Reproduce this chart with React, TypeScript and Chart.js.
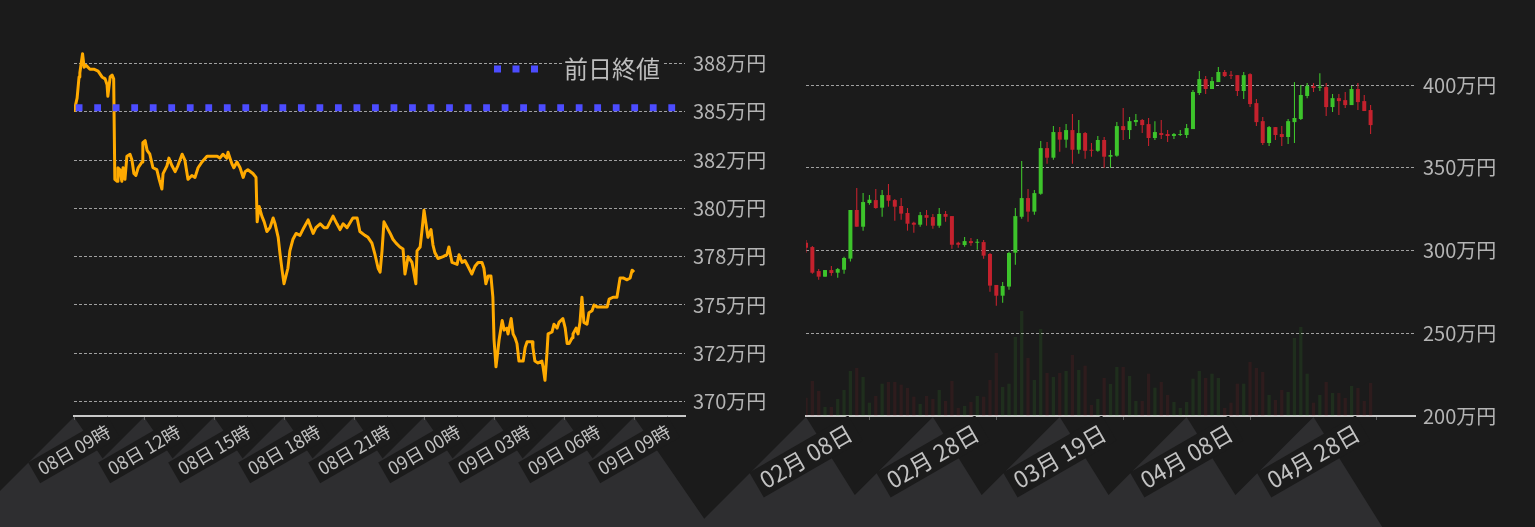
import React, { useEffect, useRef } from 'react';
import { Chart, registerables } from 'chart.js';

Chart.register(...registerables);
Chart.defaults.font.family = "'Noto Sans CJK JP', 'Noto Sans', sans-serif";

const BG = '#1b1b1b';
const ZIGZAG_GRAY = '#2e2e30';
const GRID = 'rgba(205,205,205,0.75)';
const AXIS = '#c8c8c8';
const TICK_MARK = '#5a5a5a';
const LABEL = '#b4b4b4';
const ORANGE = '#ffaa00';
const BLUE = '#4c4cff';
const UP = '#3dc42b';
const DOWN = '#c4212d';
const UP_VOL = 'rgba(61,196,43,0.11)';
const DOWN_VOL = 'rgba(196,33,45,0.11)';

// ---------------- Left chart: intraday price (minutes after 08日 09:00, price in thousand yen)
const intradayMinutes = [
  0, 8, 13, 15, 22, 26, 31, 41, 51, 62, 72, 80, 85, 87, 93, 98, 102,
  105, 111, 113, 118, 123, 126, 131, 136, 144, 149, 154, 159, 165,
  175, 177, 183, 188, 195, 203, 213, 219, 226, 229,
  239, 244, 252, 260, 267, 278, 285, 293, 303, 311,
  319, 329, 342, 355, 368, 375, 383, 393, 396, 406,
  411, 419, 427, 435, 440, 447, 460, 468, 471, 476,
  483, 489, 496, 504, 512, 517, 525, 530, 535, 540,
  545, 550, 555, 563, 571, 581, 591, 602, 615, 622,
  633, 643, 651, 666, 676, 684, 692, 702, 717, 728,
  735, 748, 756, 766, 774, 782, 787, 792, 797, 805,
  813, 820, 828, 838, 846, 851, 859, 869, 872, 879,
  882, 890, 895, 900, 905, 910, 918, 923, 928, 936,
  949, 959, 964, 972, 985, 990, 998, 1005, 1013, 1023,
  1031, 1039, 1049, 1054, 1059, 1065, 1072, 1077, 1080, 1085,
  1088, 1093, 1101, 1106, 1113, 1116, 1124, 1129, 1134, 1139,
  1144, 1155, 1160, 1165, 1178, 1180, 1185, 1193, 1203, 1206,
  1211, 1216, 1219, 1229, 1234, 1242, 1247, 1257, 1263, 1268,
  1273, 1281, 1283, 1291, 1296, 1301, 1306, 1311, 1319, 1324,
  1332, 1337, 1345, 1358, 1371, 1376, 1386, 1396, 1404, 1412,
  1422, 1430, 1435, 1440,
];
const intradayPriceK = [
  3850, 3857, 3868, 3870, 3880, 3873, 3874, 3872, 3872, 3871, 3868, 3867, 3864, 3858, 3868, 3869, 3867,
  3815, 3814, 3821, 3820, 3814, 3821, 3815, 3827, 3828, 3825, 3818, 3817, 3821,
  3824, 3834, 3835, 3830, 3828, 3821, 3820, 3815, 3810, 3818,
  3822, 3826, 3822, 3819, 3822, 3828, 3825, 3815, 3817, 3816,
  3821, 3824, 3827, 3827, 3827, 3826, 3828, 3826, 3829, 3823,
  3821, 3824, 3821, 3816, 3819, 3820, 3818, 3816, 3793, 3801,
  3796, 3793, 3788, 3790, 3795, 3792, 3785, 3776, 3768, 3761,
  3765, 3769, 3778, 3784, 3787, 3786, 3790, 3794, 3787, 3790,
  3792, 3790, 3790, 3796, 3792, 3789, 3792, 3790, 3795, 3795,
  3788, 3786, 3785, 3782, 3776, 3769, 3767, 3778, 3793, 3790,
  3787, 3784, 3782, 3780, 3779, 3766, 3775, 3772, 3769, 3761,
  3778, 3780, 3789, 3799, 3792, 3785, 3789, 3781, 3777, 3774,
  3775, 3776, 3780, 3772, 3771, 3776, 3772, 3773, 3770, 3766,
  3770, 3772, 3772, 3769, 3761, 3765, 3765, 3754, 3732, 3718,
  3723, 3732, 3742, 3737, 3738, 3735, 3743, 3735, 3733, 3730,
  3721, 3721, 3728, 3731, 3731, 3728, 3721, 3720, 3721, 3718,
  3711, 3725, 3735, 3736, 3740, 3738, 3741, 3743, 3738, 3730,
  3730, 3733, 3735, 3738, 3735, 3741, 3754, 3741, 3740, 3746,
  3747, 3750, 3749, 3749, 3749, 3753, 3754, 3754, 3764, 3764,
  3763, 3764, 3768, 3767,
];
const previousClose = 3852000;
const previousCloseLabel = '前日終値';
const intradayXRange = [0, 1571];
const intradayTickMinutes = [0, 180, 360, 540, 720, 900, 1080, 1260, 1440];
const intradayTickLabels = ['08日 09時', '08日 12時', '08日 15時', '08日 18時', '08日 21時', '09日 00時', '09日 03時', '09日 06時', '09日 09時'];
const intradayYRange = [3692540, 3883490];
const intradayYTicks = [3700000, 3725000, 3750000, 3775000, 3800000, 3825000, 3850000, 3875000];
const intradayYLabels = ['370万円', '372万円', '375万円', '378万円', '380万円', '382万円', '385万円', '388万円'];

// ---------------- Right chart: daily candles (万円) and volume
const dailyOpen = [
  304.7, 302.1, 287.6, 284.2, 288.2, 286.6, 288.4, 295.1, 324.5, 314.4,
  328.7, 330.5, 325.9, 333.5, 330.5, 326.9, 322.7, 316.8, 315.6, 321.4,
  320.2, 315.0, 322.1, 320.8, 304.7, 303.3, 305.7, 304.7, 305.1, 297.9,
  279.2, 272.7, 278.2, 298.7, 320.4, 331.7, 323.5, 334.3, 361.9, 356.1,
  371.6, 367.0, 372.8, 360.9, 371.0, 360.7, 360.3, 366.8, 356.7, 357.3,
  375.2, 372.8, 377.6, 378.9, 376.4, 368.0, 371.0, 370.4, 369.2, 369.8,
  369.8, 373.4, 395.2, 403.6, 397.6, 401.8, 407.9, 406.0, 406.0, 396.4,
  406.6, 389.1, 378.2, 365.0, 374.6, 370.4, 368.6, 377.6, 379.5, 393.4,
  399.4, 398.4, 398.8, 386.7, 392.1, 390.9, 387.9, 397.6, 390.3, 384.9,
];
const dailyHigh = [
  306.3, 302.7, 288.8, 288.2, 290.6, 289.4, 296.3, 324.5, 337.8, 334.7,
  333.5, 337.2, 336.6, 340.2, 331.1, 331.7, 325.7, 317.4, 323.3, 324.5,
  322.1, 325.7, 323.9, 320.8, 305.3, 308.2, 307.6, 307.0, 306.3, 298.5,
  279.2, 281.0, 299.3, 325.7, 354.1, 337.2, 336.6, 366.2, 365.6, 375.2,
  374.6, 376.4, 382.5, 378.9, 371.6, 365.0, 369.2, 368.6, 360.7, 377.6,
  386.1, 380.7, 382.5, 379.5, 380.1, 378.2, 378.9, 372.8, 371.0, 372.8,
  376.4, 397.0, 408.5, 405.4, 404.8, 410.9, 409.1, 408.5, 406.0, 407.9,
  407.2, 391.5, 380.7, 375.2, 374.6, 375.2, 379.5, 401.8, 400.0, 401.2,
  401.2, 407.2, 401.2, 394.6, 394.6, 395.8, 399.4, 401.2, 394.0, 387.9,
];
const dailyLow = [
  298.7, 286.0, 282.4, 284.2, 284.8, 283.6, 286.0, 293.3, 314.4, 312.0,
  327.7, 325.3, 320.4, 326.5, 318.0, 318.6, 312.0, 310.8, 314.4, 315.0,
  313.2, 313.8, 317.4, 301.1, 301.7, 302.3, 302.9, 300.5, 295.1, 275.1,
  266.7, 268.5, 276.3, 291.4, 319.2, 317.4, 321.6, 333.7, 352.5, 354.9,
  359.7, 362.1, 352.5, 358.5, 355.5, 356.7, 359.7, 350.0, 350.0, 356.7,
  366.8, 367.4, 375.2, 371.0, 363.1, 366.8, 367.4, 365.6, 367.4, 369.2,
  368.0, 373.4, 394.0, 394.6, 397.6, 401.8, 404.8, 403.6, 393.4, 391.5,
  386.7, 375.2, 363.7, 363.1, 366.8, 363.1, 364.4, 365.0, 378.9, 392.1,
  395.8, 396.4, 381.3, 383.7, 381.9, 386.1, 387.9, 384.9, 384.3, 370.4,
];
const dailyClose = [
  301.7, 286.6, 284.2, 288.2, 286.4, 288.8, 295.5, 324.5, 314.4, 329.3,
  330.7, 325.7, 333.5, 330.1, 326.5, 322.3, 316.2, 315.6, 321.4, 319.8,
  315.0, 322.1, 320.4, 303.5, 303.5, 305.7, 304.5, 305.1, 296.9, 278.8,
  272.7, 278.6, 298.5, 320.8, 331.7, 323.5, 334.7, 361.9, 356.1, 371.6,
  367.0, 372.8, 360.9, 371.0, 360.3, 360.3, 366.8, 356.7, 357.7, 375.2,
  372.8, 378.2, 378.9, 375.8, 368.0, 371.6, 369.8, 369.2, 370.4, 370.4,
  374.0, 395.8, 403.6, 397.6, 402.4, 407.9, 405.4, 405.6, 396.4, 406.0,
  388.5, 377.6, 365.0, 374.6, 369.8, 368.6, 378.2, 380.1, 394.0, 399.4,
  398.2, 398.8, 386.7, 392.1, 390.3, 387.9, 397.6, 389.7, 384.3, 375.8,
];
const dailyVolume = [
  183, 350, 250, 90, 90, 170, 260, 450, 480, 390,
  133, 200, 323, 340, 340, 313, 280, 193, 120, 200,
  170, 260, 150, 350, 80, 100, 140, 200, 193, 360,
  630, 290, 323, 790, 1050, 580, 360, 870, 430, 390,
  430, 450, 610, 460, 503, 110, 170, 380, 320, 490,
  490, 400, 150, 150, 423, 283, 340, 210, 140, 80,
  140, 373, 450, 380, 423, 380, 80, 133, 323, 323,
  540, 480, 440, 210, 160, 260, 240, 780, 890, 423,
  133, 210, 340, 230, 230, 180, 300, 280, 150, 330,
];
const dailyXRange = [0, 96];
const dailyTickIndex = [0, 20, 40, 60, 80];
const dailyTickLabels = ['02月 08日', '02月 28日', '03月 19日', '04月 08日', '04月 28日'];
const dailyYRange = [200, 423];
const dailyYTicks = [200, 250, 300, 350, 400];
const dailyYLabels = ['200万円', '250万円', '300万円', '350万円', '400万円'];
const volumeAxisMax = 3690;

// ---------------- helpers
function zigzagPlugin(tickValues: number[], leftSlope: number, rightSlope: number) {
  return {
    id: 'zigzag',
    beforeDraw(chart: any) {
      const { ctx, chartArea, height } = chart;
      const scale = chart.scales.x;
      const top = chartArea.bottom + 1;
      const h = height - top;
      ctx.save();
      ctx.fillStyle = ZIGZAG_GRAY;
      ctx.beginPath();
      tickValues.forEach((v) => {
        const px = scale.getPixelForValue(v);
        ctx.moveTo(px, top);
        ctx.lineTo(px + h / rightSlope, height);
        ctx.lineTo(px - h / leftSlope, height);
        ctx.closePath();
      });
      ctx.fill();
      ctx.restore();
    },
  };
}

// legend drawn inside the plot area, top-right, using the dataset's own style
const insideLegendPlugin = {
  id: 'insideLegend',
  afterDatasetsDraw(chart: any) {
    const { ctx, chartArea } = chart;
    const ds = chart.data.datasets[1];
    ctx.save();
    ctx.font = `24px ${Chart.defaults.font.family}`;
    ctx.textBaseline = 'middle';
    ctx.textAlign = 'left';
    const textW = ctx.measureText(ds.label).width;
    const textX = chartArea.right - 25 - textW;
    const cy = chartArea.top + 22;
    ctx.fillStyle = BG;
    ctx.fillRect(textX - 2, cy - 13, textW + 4, 26);
    ctx.fillStyle = '#bdbdbd';
    ctx.fillText(ds.label, textX, cy);
    ctx.strokeStyle = ds.borderColor;
    ctx.lineWidth = ds.borderWidth;
    ctx.setLineDash([7, 11.5]);
    ctx.beginPath();
    ctx.moveTo(textX - 70, cy);
    ctx.lineTo(textX - 25, cy);
    ctx.stroke();
    ctx.restore();
  },
};

function xAxis(tickValues: number[], tickLabels: string[], range: number[], fontSize: number, padding: number) {
  return {
    type: 'linear' as const,
    min: range[0],
    max: range[1],
    bounds: 'data' as const,
    offset: false,
    afterBuildTicks: (scale: any) => {
      scale.ticks = tickValues.map((value) => ({ value }));
    },
    afterFit: (scale: any) => {
      scale.height = 111;
      scale.paddingLeft = 0;
      scale.paddingRight = 0;
      scale._getXAxisLabelAlignment = () => 'center';
    },
    grid: { display: true, drawOnChartArea: false, drawTicks: true, tickLength: 4, color: TICK_MARK },
    border: { display: true, color: AXIS, width: 2 },
    ticks: {
      autoSkip: false,
      minRotation: 30,
      maxRotation: 30,
      color: '#c2c2c2',
      font: { size: fontSize, lineHeight: 1 },
      padding,
      labelOffset: -fontSize / 4,
      showLabelBackdrop: true,
      backdropColor: BG,
      backdropPadding: { x: 6, y: 3 },
      callback: (_v: any, i: number) => tickLabels[i],
    },
  };
}

function yAxis(tickValues: number[], tickLabels: string[], range: number[], width: number) {
  return {
    position: 'right' as const,
    min: range[0],
    max: range[1],
    bounds: 'data' as const,
    afterBuildTicks: (scale: any) => {
      scale.ticks = tickValues.map((value) => ({ value }));
    },
    afterFit: (scale: any) => {
      scale.width = width;
      scale.paddingTop = 0;
      scale.paddingBottom = 0;
    },
    grid: { color: GRID, lineWidth: 1, drawTicks: false },
    border: { display: false, dash: [3, 2] },
    ticks: {
      color: LABEL,
      font: { size: 20 },
      padding: 8,
      callback: (_v: any, i: number) => tickLabels[i],
    },
  };
}

export default function App() {
  const leftRef = useRef<HTMLCanvasElement>(null);
  const rightRef = useRef<HTMLCanvasElement>(null);

  useEffect(() => {
    const left = new Chart(leftRef.current!, {
      type: 'line',
      data: {
        datasets: [
          {
            label: '価格',
            data: intradayMinutes.map((m, i) => ({ x: m, y: intradayPriceK[i] * 1000 })),
            borderColor: ORANGE,
            borderWidth: 3,
            pointRadius: 0,
            borderJoinStyle: 'round',
            order: 2,
          },
          {
            label: previousCloseLabel,
            data: [
              { x: intradayXRange[0], y: previousClose },
              { x: intradayXRange[1], y: previousClose },
            ],
            borderColor: BLUE,
            borderWidth: 7,
            borderDash: [6.8, 11.72],
            borderDashOffset: -1.7,
            borderCapStyle: 'butt',
            pointRadius: 0,
            order: 1,
          },
        ],
      },
      options: {
        responsive: false,
        animation: false,
        events: [],
        layout: { autoPadding: false, padding: { left: 74, top: 47, right: 0, bottom: 0 } },
        plugins: { tooltip: { enabled: false }, legend: { display: false } },
        scales: {
          x: xAxis(intradayTickMinutes, intradayTickLabels, intradayXRange, 18, 22) as any,
          y: yAxis(intradayYTicks, intradayYLabels, intradayYRange, 82) as any,
        },
      },
      plugins: [zigzagPlugin(intradayTickMinutes, 1, 1.45), insideLegendPlugin],
    });

    const candleColors = dailyOpen.map((o, i) => (dailyClose[i] >= o ? UP : DOWN));
    const volumeColors = dailyOpen.map((o, i) => (dailyClose[i] >= o ? UP_VOL : DOWN_VOL));
    const right = new Chart(rightRef.current!, {
      type: 'bar',
      data: {
        datasets: [
          {
            label: 'ローソク足',
            data: dailyOpen.map((o, i) => ({ x: i, y: [o, dailyClose[i]] })) as any,
            backgroundColor: candleColors,
            grouped: false,
            categoryPercentage: 1,
            barPercentage: 0.63,
            minBarLength: 1,
            order: 1,
            clip: 0,
          },
          {
            label: 'ヒゲ',
            data: dailyLow.map((l, i) => ({ x: i, y: [l, dailyHigh[i]] })) as any,
            backgroundColor: candleColors,
            grouped: false,
            categoryPercentage: 1,
            barPercentage: 0.17,
            order: 2,
            clip: 0,
          },
          {
            label: '出来高',
            data: dailyVolume.map((v, i) => ({ x: i, y: v })) as any,
            backgroundColor: volumeColors,
            grouped: false,
            categoryPercentage: 1,
            barPercentage: 0.52,
            yAxisID: 'yVol',
            order: 3,
            clip: 0,
          },
        ],
      },
      options: {
        responsive: false,
        animation: false,
        events: [],
        layout: { autoPadding: false, padding: { left: 116, top: 47, right: 0, bottom: 0 } },
        plugins: { tooltip: { enabled: false }, legend: { display: false } },
        scales: {
          x: xAxis(dailyTickIndex, dailyTickLabels, dailyXRange, 23, 26.5) as any,
          y: yAxis(dailyYTicks, dailyYLabels, dailyYRange, 120) as any,
          yVol: { display: false, min: 0, max: volumeAxisMax },
        },
      },
      plugins: [zigzagPlugin(dailyTickIndex, 1, 1.6)],
    });

    return () => {
      left.destroy();
      right.destroy();
    };
  }, []);

  return (
    <div style={{ position: 'fixed', left: 0, top: 0, width: 1535, height: 527, background: BG, overflow: 'hidden' }}>
      <canvas ref={leftRef} width={767} height={527} style={{ position: 'absolute', left: 0, top: 0 }} />
      <canvas ref={rightRef} width={845} height={527} style={{ position: 'absolute', left: 690, top: 0 }} />
    </div>
  );
}
